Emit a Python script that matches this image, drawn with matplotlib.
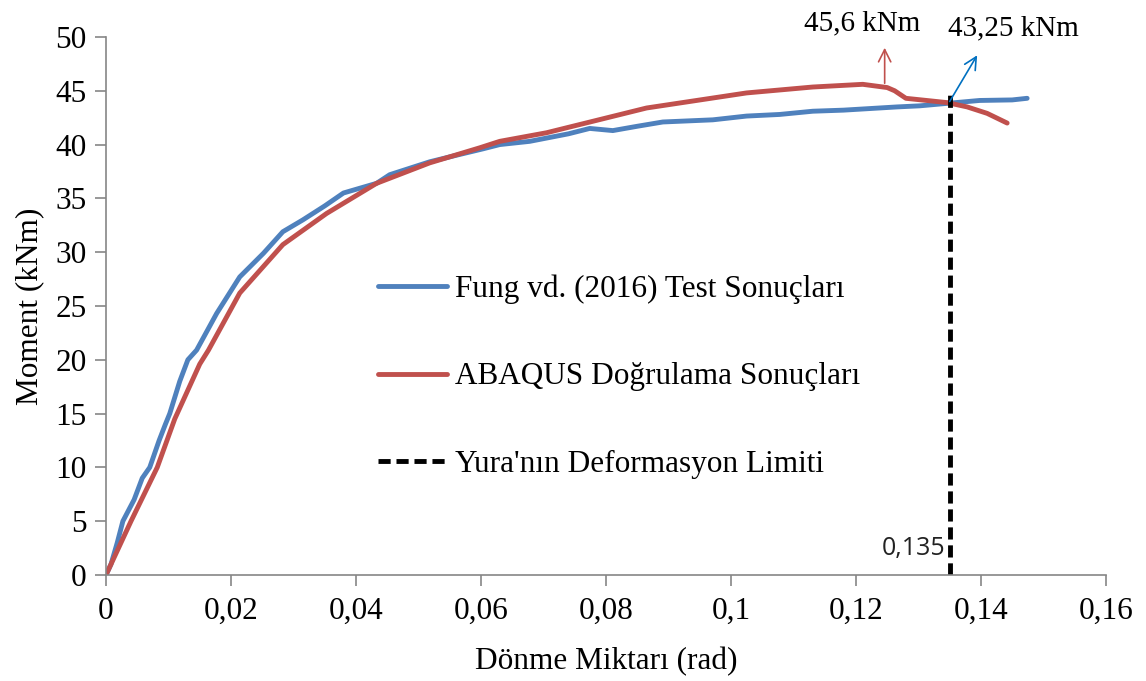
import matplotlib
matplotlib.use("Agg")
import matplotlib.pyplot as plt

plt.rcParams.update({
    "font.family": "Liberation Serif", "font.size": 22,
    "axes.spines.top": False, "axes.spines.right": False,
})

# Fung vd. (2016) test
test_x = [0.0, 0.0008, 0.0018, 0.0027, 0.0045, 0.0058, 0.0070, 0.0085, 0.0095, 0.0102,
          0.0118, 0.0131, 0.0145, 0.0177, 0.0214, 0.0252, 0.0283, 0.0315, 0.0350,
          0.0380, 0.0433, 0.0454, 0.0518, 0.0560, 0.0603, 0.0630, 0.0678, 0.0740,
          0.0774, 0.0811, 0.0850, 0.0891, 0.0971, 0.1025, 0.1078, 0.1131, 0.1180,
          0.1266, 0.1302, 0.1350, 0.1398, 0.1450, 0.1474]
test_y = [0.0, 1.0, 3.0, 5.0, 7.0, 9.0, 10.0, 12.5, 14.0, 15.0,
          18.0, 20.0, 20.9, 24.3, 27.7, 29.9, 31.9, 33.0, 34.3,
          35.5, 36.4, 37.2, 38.4, 39.0, 39.6, 40.0, 40.3, 41.0,
          41.5, 41.3, 41.7, 42.1, 42.3, 42.65, 42.8, 43.1, 43.2,
          43.5, 43.6, 43.85, 44.1, 44.15, 44.3]

# ABAQUS dogrulama
fem_x = [0.0, 0.0040, 0.0082, 0.0110, 0.0150, 0.0164, 0.0214, 0.0283, 0.0353,
         0.0433, 0.0518, 0.0598, 0.0630, 0.0705, 0.0865, 0.1025, 0.1131, 0.1211,
         0.1250, 0.1262, 0.1280, 0.1346, 0.1378, 0.1410, 0.1442]
fem_y = [0.0, 5.0, 10.0, 14.5, 19.6, 20.9, 26.2, 30.7, 33.6,
         36.4, 38.3, 39.7, 40.3, 41.1, 43.4, 44.8, 45.35, 45.6,
         45.3, 45.0, 44.3, 43.9, 43.5, 42.9, 42.0]

limit_x = 0.135
limit_top = 45.0

labels = ["Fung vd. (2016) Test Sonuçları", "ABAQUS Doğrulama Sonuçları",
          "Yura'nın Deformasyon Limiti"]

fig = plt.figure(figsize=(11.46, 6.81), dpi=100)
ax = fig.add_axes([0.0925, 0.1557, 0.8725, 0.79])

l1, = ax.plot(test_x, test_y, color="#4F81BD", lw=3.5, solid_capstyle="round")
l2, = ax.plot(fem_x, fem_y, color="#C0504D", lw=3.5, solid_capstyle="round")
l3, = ax.plot([limit_x, limit_x], [0, limit_top], color="black", lw=3.5,
              linestyle=(0, (2.5, 1.2)))

ax.set_xlim(0, 0.16)
ax.set_ylim(0, 50)
ax.set_xticks([0, 0.02, 0.04, 0.06, 0.08, 0.1, 0.12, 0.14, 0.16])
ax.set_xticklabels(["0", "0,02", "0,04", "0,06", "0,08", "0,1", "0,12", "0,14", "0,16"])
ax.set_yticks(range(0, 51, 5))
for s in ("left", "bottom"):
    ax.spines[s].set_color("#868686")
    ax.spines[s].set_linewidth(1.2)
ax.tick_params(axis="both", colors="#868686", labelcolor="black", length=8,
               width=1.2, labelsize=22.5)
ax.tick_params(axis="x", pad=8)
ax.tick_params(axis="y", pad=6)

ax.set_xlabel("Dönme Miktarı (rad)", fontsize=22.5, labelpad=15)
ax.set_ylabel("Moment (kNm)", fontsize=22.5, labelpad=8)

ax.legend([l1, l2, l3], labels, loc="upper left", bbox_to_anchor=(0.272, 0.559),
          frameon=False, fontsize=22.5, handlelength=2.2, handletextpad=0.25,
          labelspacing=1.88, borderpad=0, borderaxespad=0)

# annotations
ax.annotate("", xy=(0.1246, 49.0), xytext=(0.1246, 45.7),
            arrowprops=dict(arrowstyle="->", color="#C0504D", lw=1.2,
                            mutation_scale=22, shrinkA=0, shrinkB=0))
ax.text(0.1210, 51.3, "45,6 kNm", ha="center", va="center", fontsize=21)
ax.annotate("", xy=(0.1394, 48.3), xytext=(limit_x, 44.0),
            arrowprops=dict(arrowstyle="->", color="#0070C0", lw=1.2,
                            mutation_scale=22, shrinkA=0, shrinkB=0))
ax.text(0.1348, 50.8, "43,25 kNm", ha="left", va="center", fontsize=21)
ax.text(0.1343, 2.5, "0,135", ha="right", va="center", fontsize=18,
        family="Open Sans", color="#222222")

fig.savefig("out.png")
